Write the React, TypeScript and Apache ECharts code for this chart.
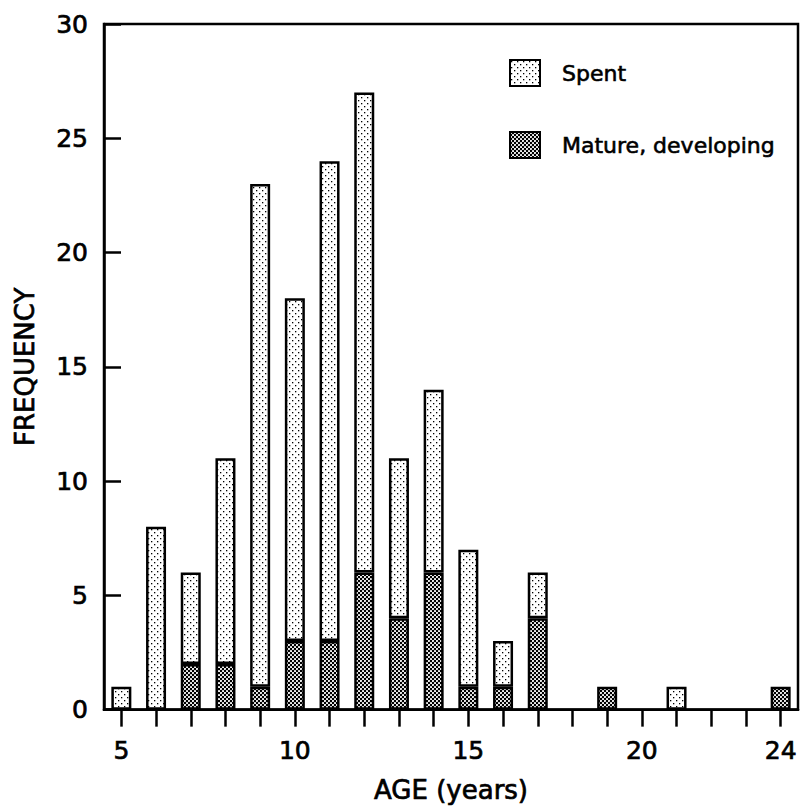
import React, { useEffect, useRef } from "react";
import * as echarts from "echarts";

const ages = ["5", "6", "7", "8", "9", "10", "11", "12", "13", "14", "15", "16", "17", "18", "19", "20", "21", "22", "23", "24"];
const matureValues = [0, 0, 2, 2, 1, 3, 3, 6, 4, 6, 1, 1, 4, 0, 1, 0, 0, 0, 0, 1];
const spentValues = [1, 8, 4, 9, 22, 15, 21, 21, 7, 8, 6, 2, 2, 0, 0, 0, 1, 0, 0, 0];
const xLabelValues = ["5", "10", "15", "20", "24"];
const seriesNames = ["Spent", "Mature, developing"];

const FONT = "DejaVu Sans";
const heavy = { textBorderColor: "#000", textBorderWidth: 0.7 };

function makeSpentPattern(): string {
  const c = document.createElement("canvas");
  c.width = 6;
  c.height = 6;
  const ctx = c.getContext("2d")!;
  ctx.fillStyle = "#ffffff";
  ctx.fillRect(0, 0, 6, 6);
  ctx.fillStyle = "#000000";
  ctx.fillRect(1, 1, 1.3, 1.3);
  ctx.fillRect(4, 4, 1.3, 1.3);
  return c.toDataURL();
}

function makeMaturePattern(): string {
  const c = document.createElement("canvas");
  c.width = 4;
  c.height = 4;
  const ctx = c.getContext("2d")!;
  ctx.fillStyle = "#000000";
  ctx.fillRect(0, 0, 4, 4);
  ctx.fillStyle = "#ffffff";
  ctx.beginPath();
  ctx.arc(1, 1, 1.05, 0, Math.PI * 2);
  ctx.fill();
  ctx.beginPath();
  ctx.arc(3, 3, 1.05, 0, Math.PI * 2);
  ctx.fill();
  return c.toDataURL();
}

const orDash = (v: number) => (v === 0 ? "-" : v);

export default function App() {
  const ref = useRef<HTMLDivElement>(null);
  useEffect(() => {
    if (!ref.current) return;
    const chart = echarts.init(ref.current, null, { renderer: "svg" });
    const spentFill: any = { image: makeSpentPattern(), repeat: "repeat", imageWidth: 6, imageHeight: 6 };
    const matureFill: any = { image: makeMaturePattern(), repeat: "repeat", imageWidth: 4, imageHeight: 4 };
    const option: any = {
      animation: false,
      backgroundColor: "#ffffff",
      textStyle: { fontFamily: FONT, color: "#000" },
      grid: {
        left: 104,
        top: 24,
        right: 2,
        bottom: 92,
        show: true,
        borderColor: "#000",
        borderWidth: 2.5,
        backgroundColor: "transparent",
      },
      legend: {
        orient: "vertical",
        left: 504,
        top: 54,
        itemWidth: 30,
        itemHeight: 26,
        itemGap: 44,
        icon: "rect",
        data: seriesNames,
        selectedMode: false,
        textStyle: { fontFamily: FONT, fontSize: 22, color: "#000", padding: [0, 0, 0, 17], ...heavy, textBorderWidth: 0.6 },
      },
      xAxis: {
        type: "category",
        data: ages,
        boundaryGap: true,
        name: "AGE (years)",
        nameLocation: "middle",
        nameGap: 67,
        nameTextStyle: { fontFamily: FONT, fontSize: 26, color: "#000", ...heavy },
        axisLine: { show: true, lineStyle: { color: "#000", width: 2.5 } },
        axisTick: {
          show: true,
          inside: false,
          length: 17,
          alignWithLabel: true,
          interval: 0,
          lineStyle: { color: "#000", width: 2.5 },
        },
        axisLabel: {
          interval: (_i: number, v: string) => xLabelValues.indexOf(v) >= 0,
          margin: 28,
          fontFamily: FONT,
          fontSize: 25,
          color: "#000",
          ...heavy,
        },
        splitLine: { show: false },
      },
      yAxis: {
        type: "value",
        min: 0,
        max: 30,
        interval: 5,
        name: "FREQUENCY",
        nameLocation: "middle",
        nameGap: 66,
        nameTextStyle: { fontFamily: FONT, fontSize: 26, color: "#000", ...heavy },
        axisLine: { show: true, lineStyle: { color: "#000", width: 2.5 } },
        axisTick: { show: true, inside: true, length: 17, lineStyle: { color: "#000", width: 2.5 } },
        axisLabel: { margin: 16, fontFamily: FONT, fontSize: 25, color: "#000", ...heavy },
        splitLine: { show: false },
      },
      series: [
        {
          name: seriesNames[1],
          type: "bar",
          stack: "total",
          barWidth: 20,
          data: matureValues.map(orDash),
          itemStyle: { color: matureFill, borderColor: "#000", borderWidth: 2.5 },
        },
        {
          name: seriesNames[0],
          type: "bar",
          stack: "total",
          barWidth: 20,
          data: spentValues.map(orDash),
          itemStyle: { color: spentFill, borderColor: "#000", borderWidth: 2.5 },
        },
      ],
    };
    chart.setOption(option);
    return () => chart.dispose();
  }, []);
  return (
    <div
      ref={ref}
      style={{ position: "fixed", left: 0, top: 0, width: 800, height: 808 }}
    />
  );
}
